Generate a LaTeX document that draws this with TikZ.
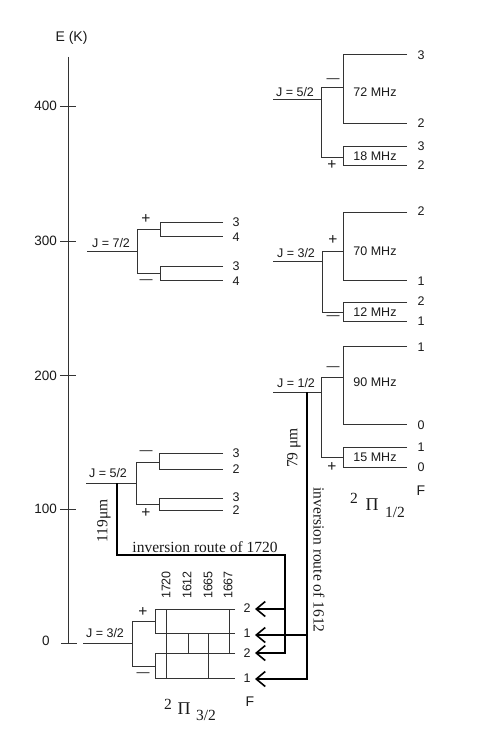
\documentclass[tikz,border=0pt]{standalone}
\usepackage{fontspec}
\setmainfont{Liberation Sans}
\newfontfamily\serf{Liberation Serif}
\usetikzlibrary{arrows.meta}
\definecolor{lc}{HTML}{333333}
\definecolor{tc}{HTML}{1A1A1A}
\tikzset{
  lev/.style={draw=lc, line width=0.9pt},
  lab/.style={font=\fontsize{12.5}{14}\selectfont, text=tc, inner sep=0pt},
  axl/.style={font=\fontsize{13.5}{15}\selectfont, text=tc, inner sep=0pt},
  sgn/.style={font=\fontsize{13}{14}\selectfont, text=tc, inner sep=0pt},
  plus/.style={font=\fontsize{15.5}{16}\selectfont, text=tc, inner sep=0pt},
  rlab/.style={font=\serf\fontsize{15.5}{17}\selectfont, text=tc, inner sep=0pt},
  pil/.style={font=\serf\fontsize{18}{20}\selectfont, text=tc, inner sep=0pt},
  pis/.style={font=\serf\fontsize{15.5}{17}\selectfont, text=tc, inner sep=0pt},
  route/.style={draw=black, line width=2pt, line join=miter},
  rarrow/.style={route, -{Straight Barb[length=9pt,width=15pt,line width=1.6pt]}},
}
\begin{document}
\begin{tikzpicture}[x=1pt,y=-1pt]
\useasboundingbox[fill=white] (0,0) rectangle (485,754);

% energy axis
\node[axl, font=\fontsize{14}{16}\selectfont] (ek) at (71.5,38) {E (K)};
\coordinate (axtop) at (68,57);
\coordinate (axbot) at (68,643);
\draw[lev] (axtop) -- (axbot);
\foreach \yy/\tt in {106/400, 241/300, 375.5/200, 509/100}{
  \draw[lev] (60,\yy) -- (76,\yy);
  \node[axl, anchor=east] at (57,\yy) {\tt};
}
\draw[lev] (61,643) -- (77,643);
\node[axl] (zero) at (46,641) {0};

% ---------- 2Pi 3/2, J = 7/2 ----------
\node[lab] (j72) at (111,243) {J = 7/2};
\draw[lev] (87,251) -- (137,251);
\draw[lev] (160,229) -- (137,229) -- (137,273) -- (160,273);
\draw[lev] (223,222) -- (160,222) -- (160,236) -- (223,236);
\draw[lev] (223,266) -- (160,266) -- (160,280) -- (223,280);
\node[plus] (p72) at (146,219) {+};
\node[sgn] (m72) at (146,282) {—};
\node[lab] (f72a) at (236,222) {3};
\node[lab] (f72b) at (236,237) {4};
\node[lab] (f72c) at (236,266) {3};
\node[lab] (f72d) at (236,281) {4};

% ---------- 2Pi 3/2, J = 5/2 ----------
\node[lab] (j52l) at (108,473) {J = 5/2};
\draw[lev] (86,483) -- (136,483);
\draw[lev] (159,462) -- (136,462) -- (136,504) -- (159,504);
\draw[lev] (223,453) -- (159,453) -- (159,469) -- (223,469);
\draw[lev] (223,498) -- (159,498) -- (159,510) -- (223,510);
\node[sgn] (m52l) at (146,453) {—};
\node[plus] (p52l) at (146,513) {+};
\node[lab] (f52a) at (236,453) {3};
\node[lab] (f52b) at (236,469) {2};
\node[lab] (f52c) at (236,497) {3};
\node[lab] (f52d) at (236,510) {2};

% ---------- 2Pi 3/2, J = 3/2 (ground) ----------
\node[lab] (j32l) at (105,633) {J = 3/2};
\draw[lev] (83,643) -- (132,643);
\draw[lev] (155,621) -- (132,621) -- (132,666) -- (155,666);
\draw[lev] (235,609) -- (155,609) -- (155,633) -- (235,633);
\draw[lev] (235,653) -- (155,653) -- (155,678) -- (235,678);
\draw[lev] (166,609) -- (166,678);
\draw[lev] (188,633) -- (188,653);
\draw[lev] (208,633) -- (208,678);
\draw[lev] (229,609) -- (229,653);
\node[plus] (p32l) at (143,612) {+};
\node[sgn] (m32l) at (143,675) {—};
\node[lab, rotate=90] (t1720) at (166,585) {1720};
\node[lab, rotate=90] (t1612) at (187,585) {1612};
\node[lab, rotate=90] (t1665) at (208,585) {1665};
\node[lab, rotate=90] (t1667) at (228,585) {1667};
\node[lab] (g2a) at (247,608) {2};
\node[lab] (g1a) at (247,633) {1};
\node[lab] (g2b) at (247,653) {2};
\node[lab] (g1b) at (247,678) {1};
\node[lab, font=\fontsize{14}{16}\selectfont] (fl) at (250,702) {F};
\node[pis] (gs2) at (168,704) {2};
\node[pil] (gspi) at (184,709) {Π};
\node[pis] (gs32) at (206,715) {3/2};

% ---------- 2Pi 1/2, J = 5/2 ----------
\node[lab] (j52r) at (295,92) {J = 5/2};
\draw[lev] (273,99) -- (321,99);
\draw[lev] (343,87) -- (321,87) -- (321,157) -- (343,157);
\draw[lev] (407,54) -- (343,54) -- (343,123) -- (407,123);
\draw[lev] (407,146) -- (343,146) -- (343,165) -- (407,165);
\node[sgn] (m52r) at (333,81) {—};
\node[plus] (p52r) at (332,165) {+};
\node[lab] (mhz72) at (375,92) {72 MHz};
\node[lab] (mhz18) at (375,156) {18 MHz};
\node[lab] (r52a) at (421,55) {3};
\node[lab] (r52b) at (421,123) {2};
\node[lab] (r52c) at (421,146) {3};
\node[lab] (r52d) at (421,165) {2};

% ---------- 2Pi 1/2, J = 3/2 ----------
\node[lab] (j32r) at (296,253) {J = 3/2};
\draw[lev] (273,261) -- (322,261);
\draw[lev] (343,251) -- (322,251) -- (322,312) -- (343,312);
\draw[lev] (407,212) -- (343,212) -- (343,280) -- (407,280);
\draw[lev] (407,302) -- (343,302) -- (343,321) -- (407,321);
\node[plus] (p32r) at (333,240) {+};
\node[sgn] (m32r) at (333,318) {—};
\node[lab] (mhz70) at (375,251) {70 MHz};
\node[lab] (mhz12) at (375,312) {12 MHz};
\node[lab] (r32a) at (421,211) {2};
\node[lab] (r32b) at (421,281) {1};
\node[lab] (r32c) at (421,301) {2};
\node[lab] (r32d) at (421,321) {1};

% ---------- 2Pi 1/2, J = 1/2 ----------
\node[lab] (j12r) at (296,383) {J = 1/2};
\draw[lev] (273,392) -- (321,392);
\draw[lev] (343,377) -- (321,377) -- (321,457) -- (343,457);
\draw[lev] (407,346) -- (343,346) -- (343,424) -- (407,424);
\draw[lev] (407,447) -- (343,447) -- (343,467) -- (407,467);
\node[sgn] (m12r) at (333,369) {—};
\node[plus] (p12r) at (332,467) {+};
\node[lab] (mhz90) at (375,382) {90 MHz};
\node[lab] (mhz15) at (375,457) {15 MHz};
\node[lab] (r12a) at (421,347) {1};
\node[lab] (r12b) at (421,425) {0};
\node[lab] (r12c) at (421,447) {1};
\node[lab] (r12d) at (421,467) {0};
\node[lab, font=\fontsize{14}{16}\selectfont] (fr) at (421,491) {F};
\node[pis] (hs2) at (354,498) {2};
\node[pil] (hspi) at (372,505) {Π};
\node[pis] (hs12) at (395,512) {1/2};

% ---------- inversion routes ----------
\coordinate (a1) at (117,483);
\coordinate (a2) at (285,555);
\coordinate (a3) at (285,609);
\coordinate (tipA) at (255,609);
\coordinate (tipB) at (255,653);
\draw[rarrow] (a1) |- (a2) |- (tipB);
\draw[rarrow] (a3) -- (tipA);
\coordinate (b1) at (307,392);
\coordinate (b2) at (307,635);
\coordinate (tipC) at (255,635);
\coordinate (tipD) at (255,679);
\draw[rarrow] (b1) |- (tipD);
\draw[rarrow] (b2) -- (tipC);

\node[rlab] (l1720) at (205,547) {inversion route of 1720};
\node[rlab, rotate=-90] (l1612) at (319,560) {inversion route of 1612};
\node[rlab, rotate=90] (l119) at (104,521) {119μm};
\node[rlab, rotate=90] (l79) at (294,448) {79 μm};
\end{tikzpicture}
\end{document}
